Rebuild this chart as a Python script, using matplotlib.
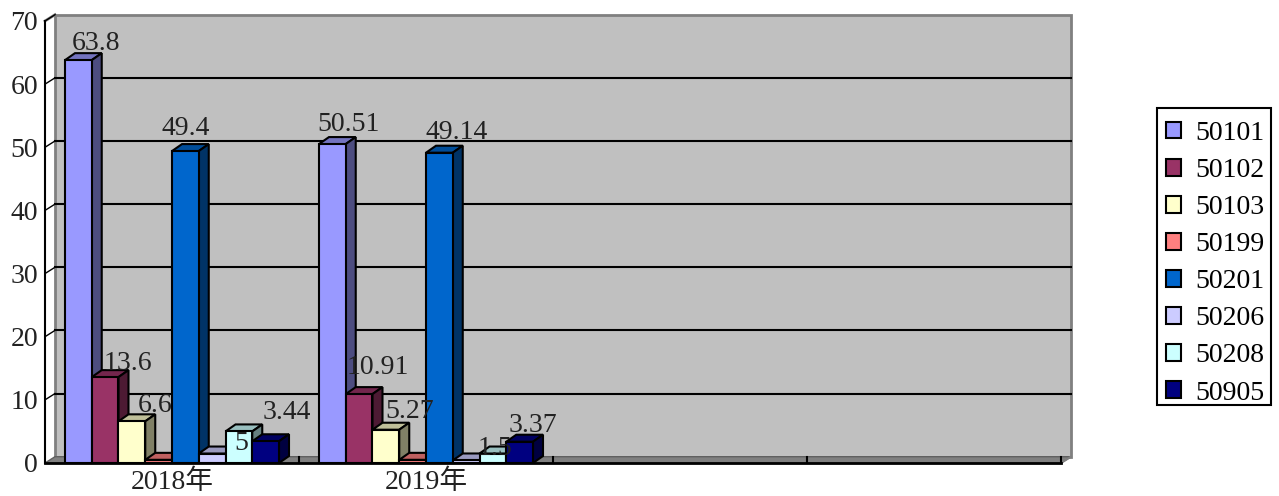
import matplotlib
matplotlib.use('Agg')
import matplotlib.pyplot as plt
from matplotlib.patches import Polygon, Rectangle

plt.rcParams['font.family'] = ['Liberation Serif', 'Noto Sans CJK SC']

categories = ['2018年', '2019年', '', '']
series_names = ['50101', '50102', '50103', '50199', '50201', '50206', '50208', '50905']
series_colors = ['#9999FF', '#993366', '#FFFFCC', '#FF8080', '#0066CC', '#CCCCFF', '#CCFFFF', '#000080']

v_2018 = [63.8, 13.6, 6.6, 0.5, 49.4, 1.5, 5, 3.44]
v_2019 = [50.51, 10.91, 5.27, 0.5, 49.14, 0.4, 1.5, 3.37]
labels_2018 = ['63.8', '13.6', '6.6', None, '49.4', None, '5', '3.44']
labels_2019 = ['50.51', '10.91', '5.27', None, '49.14', None, '1.5', '3.37']

# label shift from bar centre, in pixels (the original chart placed them oddly)
shift_2018 = [(18, -3), (23, -6), (23, -4), None, (0, 3), None, (2, -32), (21, 9)]
shift_2019 = [(16, 0), (19, 7), (24, -1), None, (17, 1), None, (2, -14), (13, -3)]

W, H = 1279, 496
fig = plt.figure(figsize=(W / 100, H / 100), dpi=100)
ax = fig.add_axes([45 / W, (H - 463) / H, 1016 / W, 442 / H])
ax.set_xlim(0, 4)
ax.set_ylim(0, 70)

px_x = 4 / 1016
px_y = 70 / 442
DX = 10 * px_x
DY = 6.3 * px_y
BAR_DY = 7 * px_y
gap = 0.0787
bar_w = (1 - 2 * gap) / 8
edge = 1.5
fs = 20


def shade(color, f):
    r, g, b = matplotlib.colors.to_rgb(color)
    return (r * f, g * f, b * f)


# back wall, floor and left edge
ax.add_patch(Polygon([(DX, DY), (4 + DX, DY), (4 + DX, 70 + DY), (DX, 70 + DY)],
                     fc='#C0C0C0', ec='#808080', lw=2, clip_on=False, zorder=1))
ax.add_patch(Polygon([(0, 0), (4, 0), (4 + DX, DY), (DX, DY)],
                     fc='#808080', ec='#606060', lw=1, clip_on=False, zorder=2))
ax.plot([0, DX], [70, 70 + DY], color='#808080', lw=2, clip_on=False, zorder=2)
ax.plot([4, 4 + DX], [0, DY], color='#808080', lw=1.5, clip_on=False, zorder=2)

for y in range(10, 70, 10):
    ax.plot([DX, 4 + DX], [y + DY, y + DY], color='black', lw=1.5, clip_on=False, zorder=3)
for y in range(10, 80, 10):
    ax.plot([0, DX], [y, y + DY], color='black', lw=1, clip_on=False, zorder=3)
for c in range(1, 5):
    ax.plot([c, c], [0, DY], color='black', lw=1.5, clip_on=False, zorder=3)


def draw_group(cat, values, labels, shifts):
    for s, val in enumerate(values):
        x0 = cat + gap + s * bar_w
        x1 = x0 + bar_w
        col = series_colors[s]
        z = 10 + cat * 10 + s
        # top and side faces first, then the front
        ax.add_patch(Polygon([(x0, val), (x1, val), (x1 + DX, val + BAR_DY), (x0 + DX, val + BAR_DY)],
                             fc=shade(col, 0.75), ec='black', lw=edge, zorder=z, clip_on=False))
        ax.add_patch(Polygon([(x1, 0), (x1 + DX, BAR_DY), (x1 + DX, val + BAR_DY), (x1, val)],
                             fc=shade(col, 0.5), ec='black', lw=edge, zorder=z, clip_on=False))
        ax.add_patch(Rectangle((x0, 0), bar_w, val, fc=col, ec='black', lw=edge, zorder=z, clip_on=False))
        if labels[s] is not None:
            sx, sy = shifts[s]
            # labels sit above every bar
            ax.text(x0 + bar_w / 2 + sx * px_x, val + BAR_DY + sy * px_y, labels[s],
                    ha='center', va='bottom', fontsize=fs, color='#222222', zorder=100)


draw_group(0, v_2018, labels_2018, shift_2018)
draw_group(1, v_2019, labels_2019, shift_2019)

for side in ['top', 'right']:
    ax.spines[side].set_visible(False)
ax.spines['left'].set_linewidth(1.5)
ax.spines['bottom'].set_linewidth(2)
ax.spines['left'].set_zorder(40)
ax.spines['bottom'].set_zorder(40)
ax.patch.set_visible(False)

ax.set_yticks(range(0, 80, 10))
ax.set_xticks([0.5, 1.5, 2.5, 3.5])
ax.set_xticklabels(categories)
ax.tick_params(axis='both', length=0, labelsize=fs, labelcolor='#222222')
ax.tick_params(axis='y', pad=5)
ax.tick_params(axis='x', pad=5)

# legend box is drawn apart so its padding can match the original
fig.patches.append(Rectangle((1157 / W, 1 - 405 / H), 114 / W, 297 / H, transform=fig.transFigure,
                             fc='white', ec='black', lw=1.5))
handles = [Rectangle((0, 0), 1, 1, fc=c, ec='black', lw=1.5) for c in series_colors]
fig.legend(handles, series_names, loc='upper left',
           bbox_to_anchor=(1166 / W, 1 - 121 / H), bbox_transform=fig.transFigure,
           fontsize=fs, frameon=False,
           handlelength=0.54, handleheight=0.54, handletextpad=0.5,
           labelspacing=0.435, borderpad=0, borderaxespad=0)

fig.savefig('out.png', dpi=100)
